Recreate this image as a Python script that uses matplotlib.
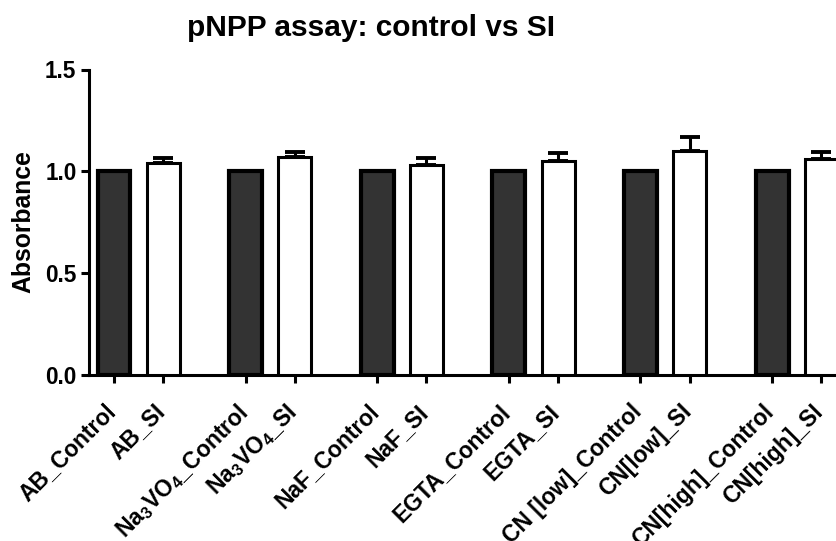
import matplotlib
matplotlib.use("Agg")
import matplotlib.pyplot as plt
import matplotlib.transforms as mtransforms
import numpy as np

plt.rcParams['font.family'] = ['Liberation Sans', 'DejaVu Sans']

groups = ["AB", "Na3VO4", "NaF", "EGTA", "CN[low]", "CN[high]"]
tick_labels = ["AB_Control", "AB_SI",
               r"Na$_3$VO$_4$_Control", r"Na$_3$VO$_4$_SI",
               "NaF_Control", "NaF_SI",
               "EGTA_Control", "EGTA_SI",
               "CN [low]_Control", "CN[low]_SI",
               "CN[high]_Control", "CN[high]_SI"]
control_values = [1.0, 1.0, 1.0, 1.0, 1.0, 1.0]
si_values = [1.042, 1.068, 1.031, 1.049, 1.102, 1.060]
si_errors = [0.024, 0.029, 0.034, 0.040, 0.066, 0.034]

plt.rcParams['mathtext.fontset'] = 'custom'
plt.rcParams['mathtext.rm'] = 'Liberation Sans:bold'
plt.rcParams['mathtext.it'] = 'Liberation Sans:bold'
plt.rcParams['mathtext.bf'] = 'Liberation Sans:bold'
plt.rcParams['mathtext.default'] = 'bf'

fig = plt.figure(figsize=(8.37, 5.41), dpi=100)
ax = fig.add_axes([89/837, 166/541, (837-89)/837, (471.5-166)/541])

step = 2.675
idx = np.arange(len(groups))
xc = idx * step
xs = idx * step + 1
w = 0.67
lw = 2.2

ax.bar(xc, control_values, width=w, color='#333333', edgecolor='black', linewidth=3.0, zorder=3)
ax.errorbar(xs, si_values, yerr=[np.zeros(len(si_values)), si_errors], fmt='none',
            ecolor='black', elinewidth=2.2, capsize=7.2, capthick=2.8, zorder=2)
ax.bar(xs, si_values, width=w, color='white', edgecolor='black', linewidth=lw, zorder=3)

ax.set_xlim(-0.508, 14.695)
ax.set_ylim(0, 1.5)
ax.set_yticks([0, 0.5, 1.0, 1.5])
ax.set_yticklabels(["0.0", "0.5", "1.0", "1.5"], fontsize=16.3, fontweight='bold')

pos = np.ravel(np.column_stack([xc, xs]))
ax.set_xticks(pos)
ax.set_xticklabels([""] * len(pos))
trans = ax.get_xaxis_transform() + mtransforms.ScaledTranslation(-10/100, -25/100, fig.dpi_scale_trans)
for p, lab in zip(pos, tick_labels):
    ax.text(p, 0, lab, transform=trans, rotation=45, ha='right', va='top',
            rotation_mode='anchor', fontsize=16.5, fontweight='bold', clip_on=False)

for s in ['top', 'right']:
    ax.spines[s].set_visible(False)
for s in ['left', 'bottom']:
    ax.spines[s].set_linewidth(2.2)
ax.tick_params(axis='both', width=2.2, length=6, color='black')
ax.tick_params(axis='y', pad=3)

fig.text(23/837, 1 - 222/541, "Absorbance", rotation=90, ha='center', va='center',
         fontsize=17.8, fontweight='bold')
fig.text(371/837, 1 - 36/541, "pNPP assay: control vs SI", ha='center', va='baseline',
         fontsize=21.5, fontweight='bold')

fig.savefig("out.png", dpi=100)
